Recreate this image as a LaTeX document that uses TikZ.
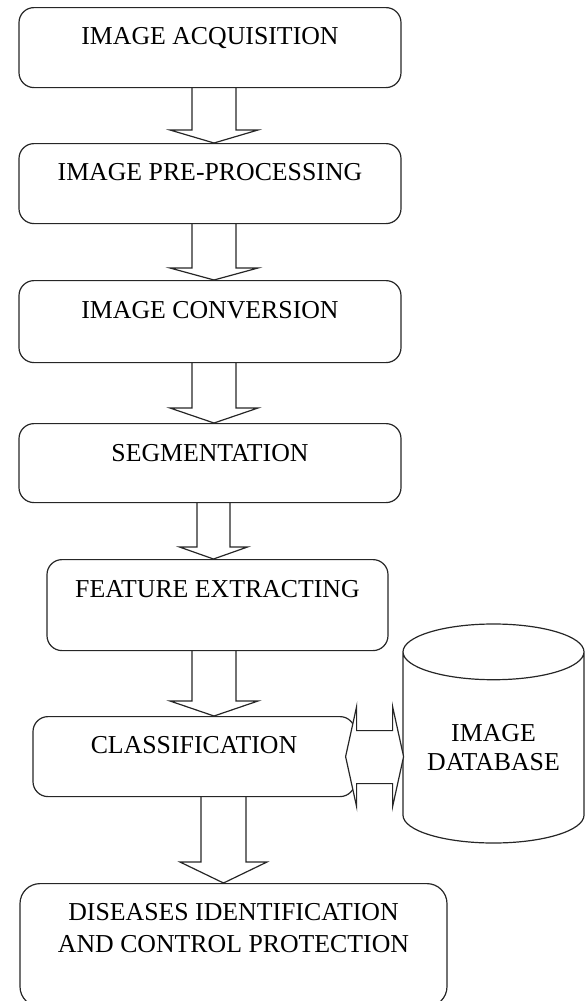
\documentclass[tikz,border=0pt]{standalone}
\usepackage{fontspec}
\setmainfont{Liberation Serif}
\usetikzlibrary{shapes.geometric}

\tikzset{
	stage/.style={draw=black!85, line width=0.6pt, rounded corners=7.5pt, inner sep=0pt, anchor=north,
		text height=18.5pt, text depth=21.5pt, font=\fontsize{12.9}{16}\selectfont},
	arrowbody/.style={draw=black!85, line width=0.6pt, line join=miter},
	store/.style={cylinder, shape border rotate=90, draw=black!85, line width=0.6pt, aspect=0.42,
		minimum width=90.5pt, minimum height=109.5pt, inner sep=0pt, align=center,
		anchor=shape center, font=\fontsize{12.9}{14.5}\selectfont}
}

\begin{document}
\begin{tikzpicture}[x=0.5pt, y=-0.5pt]

\newcommand*{\blockarrow}[6]{
	\coordinate (hb) at ([yshift=#6]#2.north);
	\draw[arrowbody] ({#3-#4},0 |- #1.south) -- ({#3-#4},0 |- hb) -- ({#3-#5},0 |- hb)
		-- (#3,0 |- #2.north) -- ({#3+#5},0 |- hb) -- ({#3+#4},0 |- hb)
		-- ({#3+#4},0 |- #1.south);
}

\useasboundingbox (0,0) rectangle (585,1001);

\node[stage, minimum width=191pt] (acq) at (210,7) {IMAGE ACQUISITION};
\node[stage, minimum width=191pt] (pre) at (210,143) {IMAGE PRE-PROCESSING};
\node[stage, minimum width=191pt, text height=19pt, text depth=22pt] (conv) at (210,280) {IMAGE CONVERSION};
\node[stage, minimum width=191pt, text height=19pt, text depth=20.5pt] (seg) at (210,423) {SEGMENTATION};
\node[stage, minimum width=170.5pt, text height=19pt, text depth=26.5pt] (feat) at (217.5,559) {FEATURE EXTRACTING};
\node[stage, minimum width=161pt] (cls) at (194,716) {CLASSIFICATION};
\node[stage, minimum width=213.5pt, rounded corners=10pt, align=center, text height=34.5pt, text depth=27pt]
	(dis) at (233.5,883) {DISEASES IDENTIFICATION\\AND CONTROL PROTECTION};
\node[store] (db) at (493.5,733.5) {IMAGE\\DATABASE};

\blockarrow{acq}{pre}{214}{22}{44}{6.5pt}
\blockarrow{pre}{conv}{214}{22}{44}{6pt}
\blockarrow{conv}{seg}{214}{22}{44}{7.5pt}
\blockarrow{seg}{feat}{213.5}{16.5}{34}{6pt}
\blockarrow{feat}{cls}{214}{22}{44}{7.5pt}
\blockarrow{cls}{dis}{223.5}{22.5}{43.5}{10.5pt}

%\draw (cls.east) -- (db.west);
\draw[arrowbody, fill=white] ([xshift=-5pt]cls.east) -- ++(11,-50) -- ++(0,24) -- ++(36,0) -- ++(0,-24)
	-- ++(11,50) -- ++(-11,50) -- ++(0,-23) -- ++(-36,0) -- ++(0,23) -- cycle;

\end{tikzpicture}
\end{document}
